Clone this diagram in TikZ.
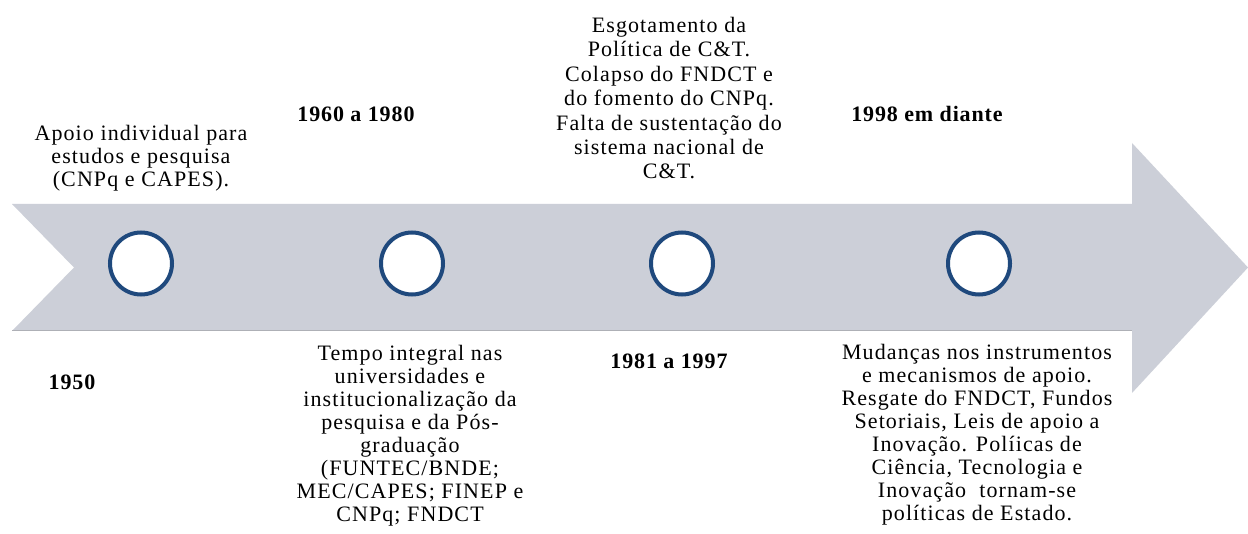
\documentclass[tikz,border=0pt]{standalone}
\usepackage{fontspec}
\setmainfont{Liberation Serif}
\newfontfamily\bodyfont{Liberation Serif}[LetterSpace=5]
\newfontfamily\yearfont{Liberation Serif}[LetterSpace=4]
\definecolor{shaft}{HTML}{CCCFD8}
\definecolor{shaftedge}{HTML}{AEB0B6}
\definecolor{ringblue}{HTML}{1F497D}
\begin{document}
\begin{tikzpicture}[x=1pt,y=-1pt,
  ring/.style={circle,draw=ringblue,line width=4pt,fill=white,minimum size=62pt,inner sep=0pt},
  body/.style={font=\bodyfont\fontsize{22}{23}\selectfont,align=center,inner sep=0pt,anchor=north},
  year/.style={font=\yearfont\fontsize{22}{23}\selectfont\bfseries,inner sep=0pt,anchor=center}]
\useasboundingbox (0,0) rectangle (1248,534);
\fill[white] (0,0) rectangle (1248,534);
% arrow band
\fill[shaft] (12,204) -- (1132,204) -- (1132,143) -- (1248,267.5) -- (1132,393) -- (1132,331) -- (12,331) -- (74,267.5) -- cycle;
\draw[shaftedge,line width=1pt] (12,331) -- (1132,331);
% circles
\node[ring] (c1) at (141,263.5) {};
\node[ring] (c2) at (412,263.5) {};
\node[ring] (c3) at (682,263.5) {};
\node[ring] (c4) at (979,263.5) {};
% top texts
\node[body] (t1) at (141,125) {Apoio individual para\\estudos e pesquisa\\(CNPq e CAPES).};
\node[year] (y2) at (356,114.5) {1960 a 1980};
\node[body,font=\bodyfont\fontsize{22}{24.4}\selectfont] (t3) at (669,17) {Esgotamento da\\Política de C\&T.\\Colapso do FNDCT e\\do fomento do CNPq.\\Falta de sustentação do\\sistema nacional de\\C\&T.};
\node[year] (y4) at (927,114) {1998 em diante};
% bottom texts
\node[year] (y1) at (72,382.5) {1950};
\node[body] (b2) at (410,345) {Tempo integral nas\\universidades e\\institucionalização da\\pesquisa e da Pós-\\graduação\\(FUNTEC/BNDE;\\MEC/CAPES; FINEP e\\CNPq; FNDCT};
\node[year] (y3) at (669,361.5) {1981 a 1997};
\node[body] (b4) at (977,344) {Mudanças nos instrumentos\\e mecanismos de apoio.\\Resgate do FNDCT, Fundos\\Setoriais, Leis de apoio a\\Inovação. Políicas de\\Ciência, Tecnologia e\\Inovação\ \ tornam-se\\políticas de Estado.};
\end{tikzpicture}
\end{document}
